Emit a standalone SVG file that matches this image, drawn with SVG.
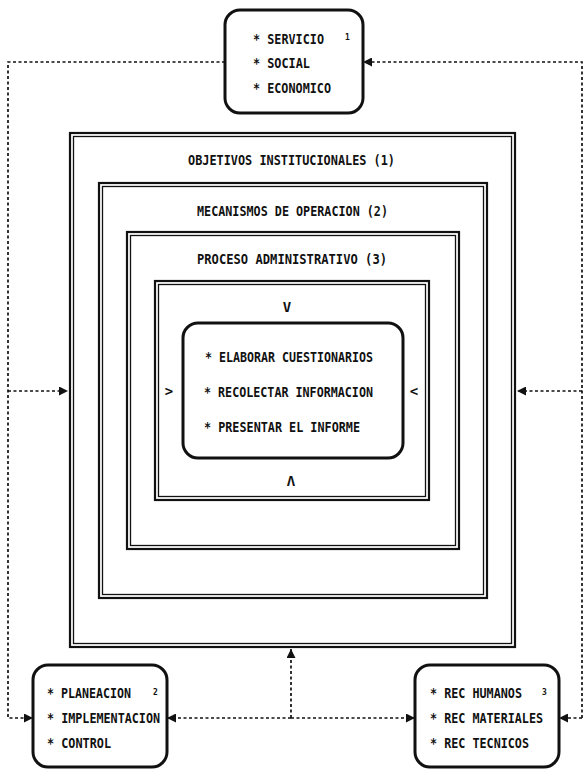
<svg xmlns="http://www.w3.org/2000/svg" width="585" height="771" viewBox="0 0 585 771">
  <style>
    .bg { fill: #ffffff; }
    .frame-out { fill: none; stroke: #111; stroke-width: 2.2; }
    .frame-in { fill: none; stroke: #111; stroke-width: 1.3; }
    .box { fill: #ffffff; stroke: #111; stroke-width: 3; }
    .link { fill: none; stroke: #111; stroke-width: 1.7; stroke-dasharray: 3 2.5; }
    .t { font-family: "DejaVu Sans Mono", "Liberation Mono", monospace; font-weight: bold; font-size: 14px; fill: #111; }
    .sup { font-family: "DejaVu Sans Mono", "Liberation Mono", monospace; font-weight: bold; font-size: 8px; fill: #111; }
  </style>
  <defs>
    <marker id="arrow" viewBox="0 0 9 9" refX="9" refY="4.5" markerWidth="9" markerHeight="9" markerUnits="userSpaceOnUse" orient="auto">
      <path d="M0,0 L9,4.5 L0,9 z" fill="#111"/>
    </marker>
  </defs>

  <rect class="bg" x="0" y="0" width="585" height="771"/>

  <!-- nested frames -->
  <g id="objetivos">
    <rect class="frame-out" x="70" y="133" width="445" height="514"/>
    <rect class="frame-in" x="73.5" y="136.5" width="438" height="507"/>
    <text class="t" x="188" y="165" textLength="207" lengthAdjust="spacingAndGlyphs">OBJETIVOS INSTITUCIONALES (1)</text>
  </g>
  <g id="mecanismos">
    <rect class="frame-out" x="99" y="183" width="388" height="415"/>
    <rect class="frame-in" x="102.5" y="186.5" width="381" height="408"/>
    <text class="t" x="197" y="216" textLength="191" lengthAdjust="spacingAndGlyphs">MECANISMOS DE OPERACION (2)</text>
  </g>
  <g id="proceso">
    <rect class="frame-out" x="127" y="232" width="332" height="317"/>
    <rect class="frame-in" x="130.5" y="235.5" width="325" height="310"/>
    <text class="t" x="197" y="264" textLength="190" lengthAdjust="spacingAndGlyphs">PROCESO ADMINISTRATIVO (3)</text>
  </g>
  <g id="nucleo">
    <rect class="frame-out" x="155" y="281" width="274" height="219"/>
    <rect class="frame-in" x="158.5" y="284.5" width="267" height="212"/>
    <text class="t" x="287" y="312" text-anchor="middle">V</text>
    <text class="t" x="291" y="486" text-anchor="middle">Λ</text>
    <text class="t" x="169" y="396" text-anchor="middle">&gt;</text>
    <text class="t" x="414" y="396" text-anchor="middle">&lt;</text>
  </g>
  <g id="actividades">
    <rect class="box" x="183" y="323" width="220" height="135" rx="15"/>
    <text class="t" x="205" y="362" textLength="168" lengthAdjust="spacingAndGlyphs">* ELABORAR CUESTIONARIOS</text>
    <text class="t" x="204" y="397" textLength="169" lengthAdjust="spacingAndGlyphs">* RECOLECTAR INFORMACION</text>
    <text class="t" x="204" y="432" textLength="156" lengthAdjust="spacingAndGlyphs">* PRESENTAR EL INFORME</text>
  </g>

  <!-- outer nodes -->
  <g id="fines">
    <rect class="box" x="225" y="10" width="138" height="103" rx="15"/>
    <text class="t" x="253" y="44" textLength="71" lengthAdjust="spacingAndGlyphs">* SERVICIO</text>
    <text class="sup" x="345" y="40">1</text>
    <text class="t" x="253" y="68" textLength="57" lengthAdjust="spacingAndGlyphs">* SOCIAL</text>
    <text class="t" x="253" y="93" textLength="78" lengthAdjust="spacingAndGlyphs">* ECONOMICO</text>
  </g>
  <g id="gestion">
    <rect class="box" x="33" y="665" width="134" height="102" rx="15"/>
    <text class="t" x="47" y="698" textLength="84" lengthAdjust="spacingAndGlyphs">* PLANEACION</text>
    <text class="sup" x="153" y="695">2</text>
    <text class="t" x="47" y="723" textLength="113" lengthAdjust="spacingAndGlyphs">* IMPLEMENTACION</text>
    <text class="t" x="47" y="748" textLength="64" lengthAdjust="spacingAndGlyphs">* CONTROL</text>
  </g>
  <g id="recursos">
    <rect class="box" x="415" y="665" width="144" height="102" rx="15"/>
    <text class="t" x="430" y="698" textLength="92" lengthAdjust="spacingAndGlyphs">* REC HUMANOS</text>
    <text class="sup" x="542" y="695">3</text>
    <text class="t" x="430" y="723" textLength="113" lengthAdjust="spacingAndGlyphs">* REC MATERIALES</text>
    <text class="t" x="430" y="748" textLength="99" lengthAdjust="spacingAndGlyphs">* REC TECNICOS</text>
  </g>

  <!-- connectors -->
  <g id="connectors">
    <path class="link" d="M225,62 H8 V718 H33" marker-end="url(#arrow)"/>
    <path class="link" d="M8,391 H68" marker-end="url(#arrow)"/>
    <path class="link" d="M582,718 V62 H363" marker-end="url(#arrow)"/>
    <path class="link" d="M582,391 H517" marker-end="url(#arrow)"/>
    <path class="link" d="M582,718 H559" marker-end="url(#arrow)"/>
    <path class="link" d="M291,718 H167" marker-end="url(#arrow)"/>
    <path class="link" d="M291,718 H415" marker-end="url(#arrow)"/>
    <path class="link" d="M291,718 V649" marker-end="url(#arrow)"/>
  </g>
</svg>
